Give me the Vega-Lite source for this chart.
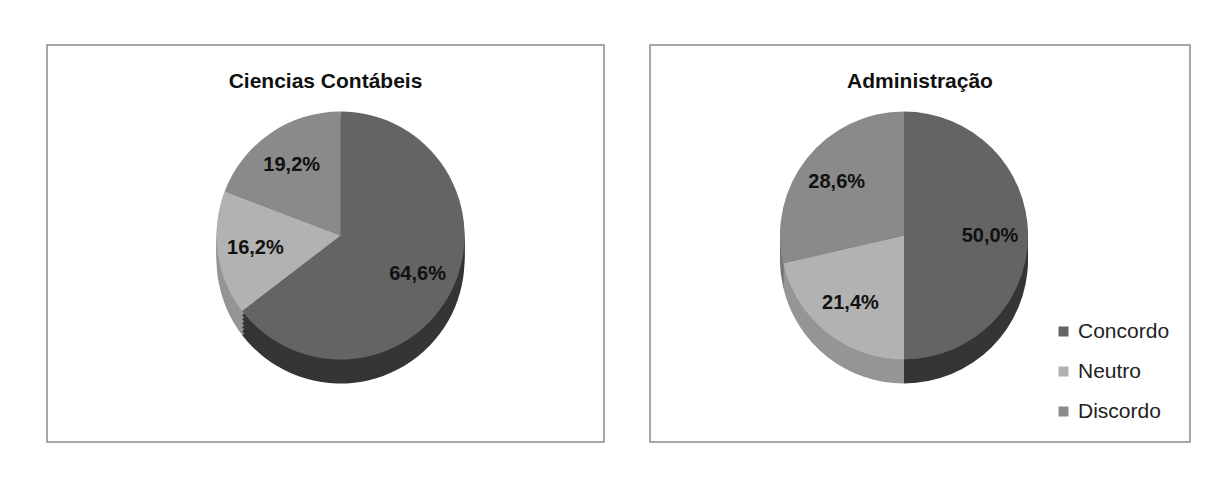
{
  "$schema": "https://vega.github.io/schema/vega-lite/v6.json",
  "padding": {"left": 46, "top": 44, "right": 0, "bottom": 0},
  "background": "white",
  "spacing": 44,
  "config": {
    "view": {"stroke": "#8a8a8a", "strokeWidth": 1.5},
    "font": "Liberation Sans",
    "title": {"fontSize": 21, "fontWeight": "bold", "color": "#111111", "offset": -47, "anchor": "middle", "font": "Liberation Sans"}
  },
  "datasets": {
    "cc": [
      {"resp": "Concordo", "pct": 64.6, "ord": 1, "label": "64,6%"},
      {"resp": "Neutro", "pct": 16.2, "ord": 2, "label": "16,2%"},
      {"resp": "Discordo", "pct": 19.2, "ord": 3, "label": "19,2%"}
    ],
    "adm": [
      {"resp": "Concordo", "pct": 50.0, "ord": 1, "label": "50,0%"},
      {"resp": "Neutro", "pct": 21.4, "ord": 2, "label": "21,4%"},
      {"resp": "Discordo", "pct": 28.6, "ord": 3, "label": "28,6%"}
    ]
  },
  "resolve": {"legend": {"color": "independent"}},
  "hconcat": [
    {
      "width": 557,
      "height": 397,
      "view": {"stroke": "#8a8a8a", "strokeWidth": 1.5},
      "title": "Ciencias  Contábeis",
      "data": {"name": "cc"},
      "encoding": {
        "theta": {"field": "pct", "type": "quantitative", "stack": true},
        "order": {"field": "ord", "type": "quantitative"}
      },
      "layer": [
        {"mark": {"type": "arc", "radius": 124, "xOffset": 15, "yOffset": 16},
         "encoding": {"fill": {"field": "resp", "type": "nominal", "scale": {"domain": ["Concordo", "Neutro", "Discordo"], "range": ["#353535", "#959595", "#757575"]}, "legend": null}}},
        {"mark": {"type": "arc", "radius": 124, "xOffset": 15, "yOffset": 12},
         "encoding": {"fill": {"field": "resp", "type": "nominal", "scale": {"domain": ["Concordo", "Neutro", "Discordo"], "range": ["#353535", "#959595", "#757575"]}, "legend": null}}},
        {"mark": {"type": "arc", "radius": 124, "xOffset": 15, "yOffset": 8},
         "encoding": {"fill": {"field": "resp", "type": "nominal", "scale": {"domain": ["Concordo", "Neutro", "Discordo"], "range": ["#353535", "#959595", "#757575"]}, "legend": null}}},
        {"mark": {"type": "arc", "radius": 124, "xOffset": 15, "yOffset": 4},
         "encoding": {"fill": {"field": "resp", "type": "nominal", "scale": {"domain": ["Concordo", "Neutro", "Discordo"], "range": ["#353535", "#959595", "#757575"]}, "legend": null}}},
        {"mark": {"type": "arc", "radius": 124, "xOffset": 15, "yOffset": 0},
         "encoding": {"fill": {"field": "resp", "type": "nominal", "scale": {"domain": ["Concordo", "Neutro", "Discordo"], "range": ["#353535", "#959595", "#757575"]}, "legend": null}}},
        {"mark": {"type": "arc", "radius": 124, "xOffset": 15, "yOffset": -4},
         "encoding": {"fill": {"field": "resp", "type": "nominal", "scale": {"domain": ["Concordo", "Neutro", "Discordo"], "range": ["#353535", "#959595", "#757575"]}, "legend": null}}},
        {"mark": {"type": "arc", "radius": 124, "xOffset": 15, "yOffset": -8},
         "encoding": {"color": {"field": "resp", "type": "nominal", "scale": {"domain": ["Concordo", "Neutro", "Discordo"], "range": ["#646464", "#b2b2b2", "#8a8a8a"]}, "legend": null}}},
        {"mark": {"type": "text", "radius": 86, "xOffset": 15, "yOffset": -8, "fontSize": 20, "fontWeight": "bold", "fill": "#111111", "font": "Liberation Sans"},
         "encoding": {"text": {"field": "label", "type": "nominal"}}}
      ]
    },
    {
      "width": 540,
      "height": 397,
      "view": {"stroke": "#8a8a8a", "strokeWidth": 1.5},
      "title": "Administração",
      "data": {"name": "adm"},
      "encoding": {
        "theta": {"field": "pct", "type": "quantitative", "stack": true},
        "order": {"field": "ord", "type": "quantitative"}
      },
      "layer": [
        {"mark": {"type": "arc", "radius": 124, "xOffset": -16, "yOffset": 16},
         "encoding": {"fill": {"field": "resp", "type": "nominal", "scale": {"domain": ["Concordo", "Neutro", "Discordo"], "range": ["#353535", "#959595", "#757575"]}, "legend": null}}},
        {"mark": {"type": "arc", "radius": 124, "xOffset": -16, "yOffset": 12},
         "encoding": {"fill": {"field": "resp", "type": "nominal", "scale": {"domain": ["Concordo", "Neutro", "Discordo"], "range": ["#353535", "#959595", "#757575"]}, "legend": null}}},
        {"mark": {"type": "arc", "radius": 124, "xOffset": -16, "yOffset": 8},
         "encoding": {"fill": {"field": "resp", "type": "nominal", "scale": {"domain": ["Concordo", "Neutro", "Discordo"], "range": ["#353535", "#959595", "#757575"]}, "legend": null}}},
        {"mark": {"type": "arc", "radius": 124, "xOffset": -16, "yOffset": 4},
         "encoding": {"fill": {"field": "resp", "type": "nominal", "scale": {"domain": ["Concordo", "Neutro", "Discordo"], "range": ["#353535", "#959595", "#757575"]}, "legend": null}}},
        {"mark": {"type": "arc", "radius": 124, "xOffset": -16, "yOffset": 0},
         "encoding": {"fill": {"field": "resp", "type": "nominal", "scale": {"domain": ["Concordo", "Neutro", "Discordo"], "range": ["#353535", "#959595", "#757575"]}, "legend": null}}},
        {"mark": {"type": "arc", "radius": 124, "xOffset": -16, "yOffset": -4},
         "encoding": {"fill": {"field": "resp", "type": "nominal", "scale": {"domain": ["Concordo", "Neutro", "Discordo"], "range": ["#353535", "#959595", "#757575"]}, "legend": null}}},
        {"mark": {"type": "arc", "radius": 124, "xOffset": -16, "yOffset": -8},
         "encoding": {"color": {"field": "resp", "type": "nominal", "scale": {"domain": ["Concordo", "Neutro", "Discordo"], "range": ["#646464", "#b2b2b2", "#8a8a8a"]},
           "legend": {"title": null, "orient": "bottom-right", "offset": 20, "padding": 0, "symbolType": "square", "symbolSize": 100, "symbolStrokeWidth": 0, "labelFontSize": 21, "labelFont": "Liberation Sans", "labelColor": "#222222", "rowPadding": 18, "labelOffset": 4}}}},
        {"mark": {"type": "text", "radius": 86, "xOffset": -16, "yOffset": -8, "fontSize": 20, "fontWeight": "bold", "fill": "#111111", "font": "Liberation Sans"},
         "encoding": {"text": {"field": "label", "type": "nominal"}}}
      ]
    }
  ]
}
